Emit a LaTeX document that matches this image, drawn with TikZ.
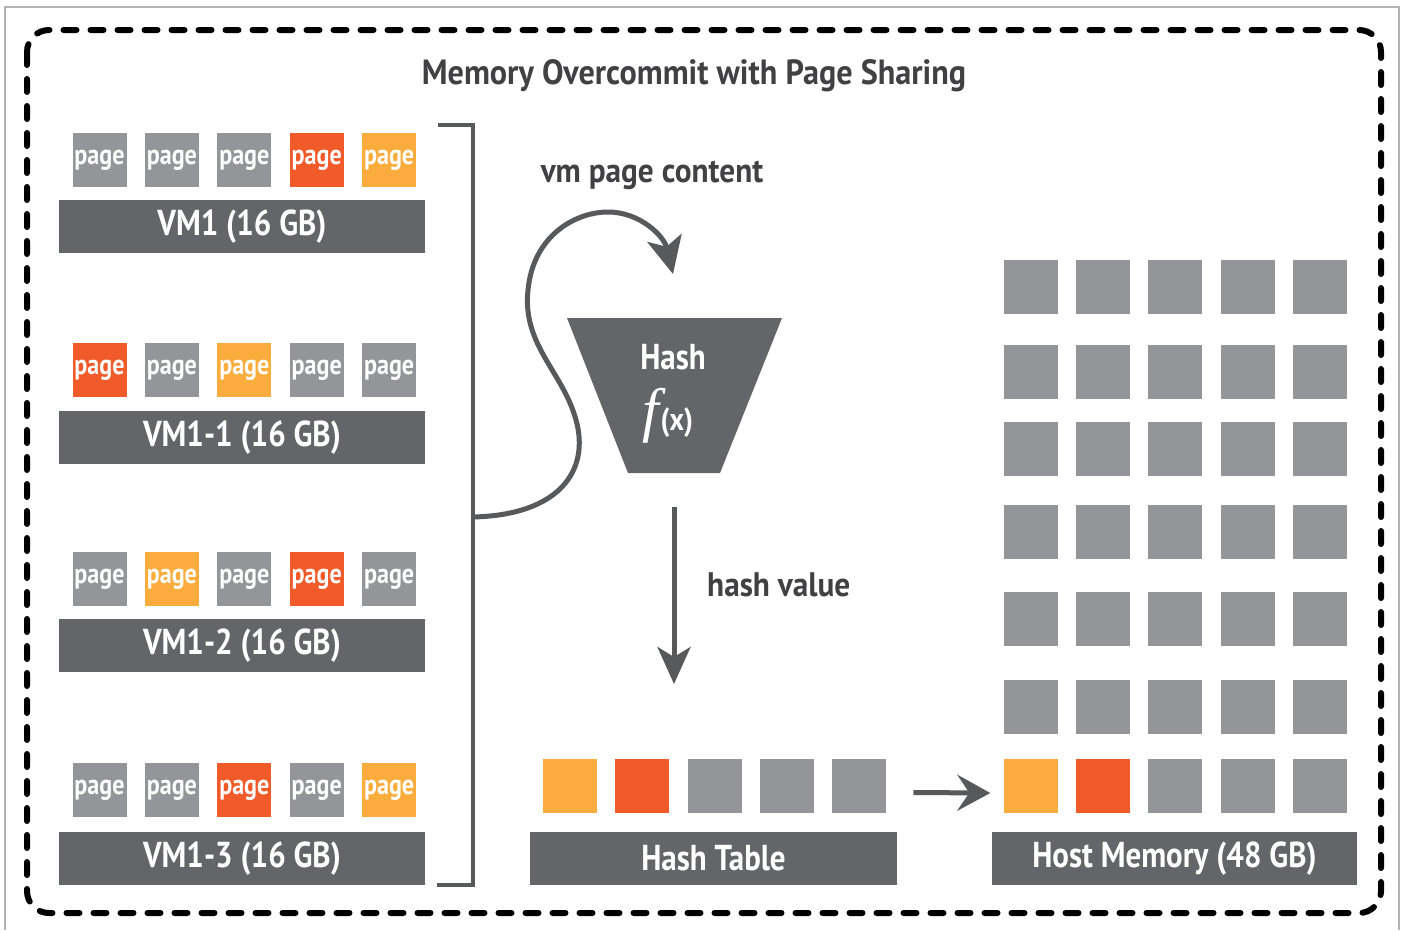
\documentclass[tikz,border=0pt]{standalone}
\usepackage{fontspec}
\setmainfont{PT Sans}
\newfontfamily\cond[FakeStretch=0.86]{PT Sans}
\newfontfamily\condw[FakeStretch=0.92]{PT Sans}
\newfontfamily\fxfont{Liberation Serif}
\usetikzlibrary{arrows.meta}

\definecolor{pagegray}{HTML}{939598}
\definecolor{bargray}{HTML}{646568}
\definecolor{pagered}{HTML}{F15A29}
\definecolor{pageorange}{HTML}{FAAD3C}
\definecolor{linegray}{HTML}{58595B}
\definecolor{textdark}{HTML}{414042}
\definecolor{framegray}{HTML}{B4B4B4}

\tikzset{
  pagebox/.style={fill=#1, minimum width=54pt, minimum height=54pt, inner sep=0pt,
    text=white, font=\cond\bfseries\fontsize{28}{28}\selectfont},
  hcell/.style={fill=#1, minimum width=54pt, minimum height=54pt, inner sep=0pt},
  vmbar/.style={fill=bargray, minimum width=#1, minimum height=53pt, inner sep=0pt,
    text=white, font=\cond\bfseries\fontsize{36}{36}\selectfont},
  lbl/.style={text=textdark, inner sep=0pt, font=\condw\bfseries\fontsize{34}{34}\selectfont},
  flow/.style={draw=linegray, line width=5pt},
}

\begin{document}
\begin{tikzpicture}[x=1pt, y=-1pt]
\useasboundingbox (0,0) rectangle (1405,930);
\fill[white] (0,0) rectangle (1405,930);

% thin outer frame and dashed container
\draw[framegray, line width=1.5pt] (5,930) -- (5,7) -- (1399,7) -- (1399,930);
\draw[black, line width=6pt, dash pattern=on 13pt off 14pt, line cap=round,
      rounded corners=22pt] (27,30) rectangle (1381,913);

\node[lbl, anchor=base, font=\condw\bfseries\fontsize{35}{35}\selectfont]
  (title) at (694,84) {Memory Overcommit with Page Sharing};

% virtual machines: page row above a labelled bar
\foreach \r/\lab/\py/\by/\cols in {
    1/{VM1 (16 GB)}/133/200/{pagegray,pagegray,pagegray,pagered,pageorange},
    2/{VM1-1 (16 GB)}/343/411/{pagered,pagegray,pageorange,pagegray,pagegray},
    3/{VM1-2 (16 GB)}/552/619/{pagegray,pageorange,pagegray,pagered,pagegray},
    4/{VM1-3 (16 GB)}/763/832/{pagegray,pagegray,pagered,pagegray,pageorange}} {
  \foreach \c [count=\i] in \cols {
    \node[pagebox=\c] (p\r-\i) at ({99.5+72.4*(\i-1)}, \py+27) {page};
  }
  \node[vmbar=366pt] (vm\r) at (242, \by+26.5) {\lab};
}

% bracket gathering the VMs
\coordinate (brtop) at (438,125);
\coordinate (brbot) at (437,885);
\coordinate (brmid) at (473,517);
\draw[linegray, line width=4.5pt] (brtop) -- ++(35,0) |- (brbot);

% hash function funnel
\fill[bargray] (567,318) -- (782,318) -- (720,473) -- (628,473) -- cycle;
\node[text=white, inner sep=0pt, anchor=base,
      font=\cond\bfseries\fontsize{36}{36}\selectfont] (hashlbl) at (673,369) {Hash};
\node[text=white, inner sep=0pt, anchor=base] (fx) at (668,430)
  {{\fxfont\itshape\fontsize{60}{60}\selectfont f}\kern1pt{\cond\bfseries\fontsize{32}{32}\selectfont(x)}};

% page content into the hash function
\coordinate (fnin) at (673,274);
\draw[flow, -{Stealth[length=37pt,width=35pt,inset=9pt]}]
  (brmid) .. controls (560,515) and (590,470) .. (576,420)
          .. controls (563,372) and (522,345) .. (528,290)
          .. controls (533,236) and (575,212) .. (608,212)
          .. controls (640,212) and (664,236) .. (fnin);
\node[lbl] (vmpc) at (652,175) {vm page content};

% hash value down to the table
\coordinate (hvtop) at (674,507);
\coordinate (hvend) at (674,684);
\draw[flow, -{Stealth[length=37pt,width=33pt,inset=10pt]}] (hvtop) -- (hvend);
\node[lbl, anchor=west] (hv) at (707,585) {hash value};

% hash table
\foreach \c [count=\i] in {pageorange,pagered,pagegray,pagegray,pagegray} {
  \node[hcell=\c] (ht\i) at ({570+72.3*(\i-1)}, 785.5) {};
}
\node[vmbar=367pt] (htbar) at (713.5,858.5) {Hash Table};

% host memory grid
\foreach \ry [count=\j] in {260,345,422,505,592,680} {
  \foreach \i in {1,...,5} {
    \node[hcell=pagegray] (hm\j-\i) at ({1030.5+72.4*(\i-1)}, \ry+27) {};
  }
}
\foreach \c [count=\i] in {pageorange,pagered,pagegray,pagegray,pagegray} {
  \node[hcell=\c] (hm7-\i) at ({1030.5+72.4*(\i-1)}, 786) {};
}
\node[vmbar=365pt] (hmbar) at (1174.5,858.5) {Host Memory (48 GB)};

% table entries map to host pages
\draw[flow, -{Stealth[length=33pt,width=36pt,inset=12pt]}]
  ([xshift=27pt,yshift=-7pt]ht5.east) -- ([xshift=-13pt,yshift=-7pt]hm7-1.west);
\end{tikzpicture}
\end{document}
